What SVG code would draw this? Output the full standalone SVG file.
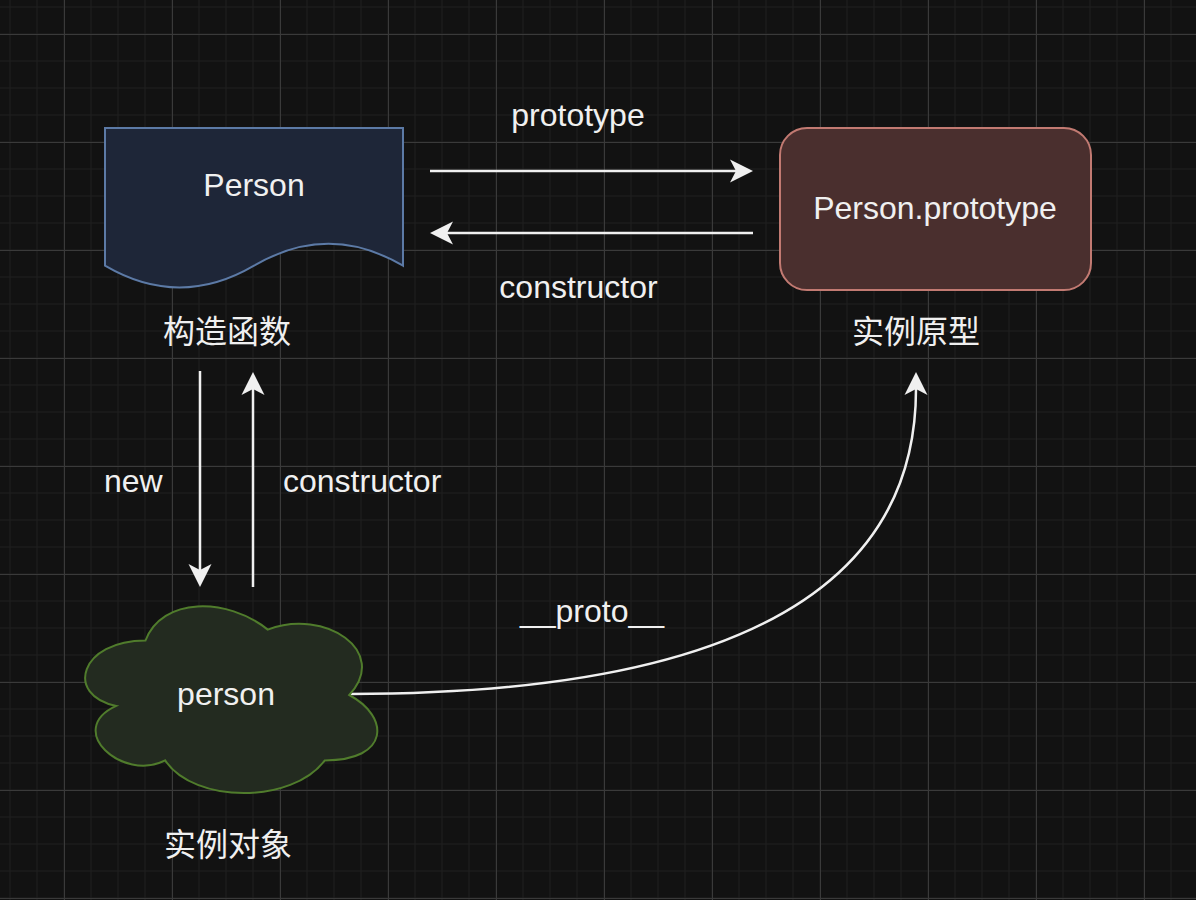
<svg xmlns="http://www.w3.org/2000/svg" width="1196" height="900" viewBox="0 0 1196 900">
  <style>
    .lbl { font-family: "Liberation Sans", Arial, Helvetica, sans-serif; font-size: 32px; fill: #f0f0f0; }
    .cjk { font-family: "Liberation Sans", "Noto Sans CJK SC", sans-serif; font-size: 32px; fill: #f0f0f0; }
    .mid { text-anchor: middle; }
    .edge { fill: none; stroke: #f0f0f0; stroke-width: 2.5; marker-end: url(#arr); }
  </style>
  <defs>
    <marker id="arr" markerUnits="userSpaceOnUse" viewBox="-7 -13 25 26" refX="0" refY="0" markerWidth="25" markerHeight="26" orient="auto">
      <path d="M17 0 L-6 -11.5 L0 0 L-6 11.5 Z" fill="#f0f0f0"/>
    </marker>
  </defs>
  <rect x="0" y="0" width="1196" height="900" fill="#121212"/>
  <g id="grid" fill="none">
    <path stroke="#1d1d1d" stroke-width="1.5" d="M10 0V900M37 0V900M64 0V900M91 0V900M118 0V900M145 0V900M172 0V900M199 0V900M226 0V900M253 0V900M280 0V900M307 0V900M334 0V900M361 0V900M388 0V900M415 0V900M442 0V900M469 0V900M496 0V900M523 0V900M550 0V900M577 0V900M604 0V900M631 0V900M658 0V900M685 0V900M712 0V900M739 0V900M766 0V900M793 0V900M820 0V900M847 0V900M874 0V900M901 0V900M928 0V900M955 0V900M982 0V900M1009 0V900M1036 0V900M1063 0V900M1090 0V900M1117 0V900M1144 0V900M1171 0V900M0 7H1196M0 34H1196M0 61H1196M0 88H1196M0 115H1196M0 142H1196M0 169H1196M0 196H1196M0 223H1196M0 250H1196M0 277H1196M0 304H1196M0 331H1196M0 358H1196M0 385H1196M0 412H1196M0 439H1196M0 466H1196M0 493H1196M0 520H1196M0 547H1196M0 574H1196M0 601H1196M0 628H1196M0 655H1196M0 682H1196M0 709H1196M0 736H1196M0 763H1196M0 790H1196M0 817H1196M0 844H1196M0 871H1196M0 898H1196"/>
    <path stroke="#3a3a3a" stroke-width="1" d="M64.5 0V900M172.5 0V900M280.5 0V900M388.5 0V900M496.5 0V900M604.5 0V900M712.5 0V900M820.5 0V900M928.5 0V900M1036.5 0V900M1144.5 0V900M0 34.5H1196M0 142.5H1196M0 250.5H1196M0 358.5H1196M0 466.5H1196M0 574.5H1196M0 682.5H1196M0 790.5H1196M0 898.5H1196"/>
  </g>
  <g id="connectors">
    <path id="e-prototype" class="edge" d="M430 171 H736"/>
    <path id="e-constructor-top" class="edge" d="M753 233 H447"/>
    <path id="e-new" class="edge" d="M200 371 V570"/>
    <path id="e-constructor-up" class="edge" d="M253 587 V389"/>
    <path id="e-proto" class="edge" d="M350 694 Q916 694 916 389"/>
    <text class="lbl mid" x="578" y="126">prototype</text>
    <text class="lbl mid" x="578.5" y="298">constructor</text>
    <text class="lbl" x="104" y="492">new</text>
    <text class="lbl" x="283" y="492">constructor</text>
    <text class="lbl mid" x="592" y="622">__proto__</text>
  </g>
  <g id="node-person-ctor">
    <path d="M105 128 H403 V265.7 Q328.5 222 254 265.7 Q179.5 309.4 105 265.7 Z" fill="#1e2638" stroke="#5c7aa6" stroke-width="2"/>
    <text class="lbl mid" x="254" y="196">Person</text>
    <text class="cjk mid" x="227" y="343">构造函数</text>
  </g>
  <g id="node-person-prototype">
    <rect x="780" y="128" width="311" height="162" rx="27" ry="27" fill="#4a2f2e" stroke="#c27a72" stroke-width="2"/>
    <text class="lbl mid" x="935" y="219">Person.prototype</text>
    <text class="cjk mid" x="916" y="343">实例原型</text>
  </g>
  <g id="node-person-instance">
    <path d="M145.5 640.5 C80.3 640.5 64 695 116.2 705.9 C64 729.9 122.7 782.2 165.1 760.4 C194.4 804 292.2 804 324.8 760.4 C390 760.4 390 716.8 349.25 695 C390 651.4 324.8 607.8 267.75 629.6 C227 596.9 161.8 596.9 145.5 640.5 Z" fill="#232b20" stroke="#507c2c" stroke-width="2"/>
    <text class="lbl mid" x="226" y="705">person</text>
    <text class="cjk mid" x="228" y="856">实例对象</text>
  </g>
</svg>
